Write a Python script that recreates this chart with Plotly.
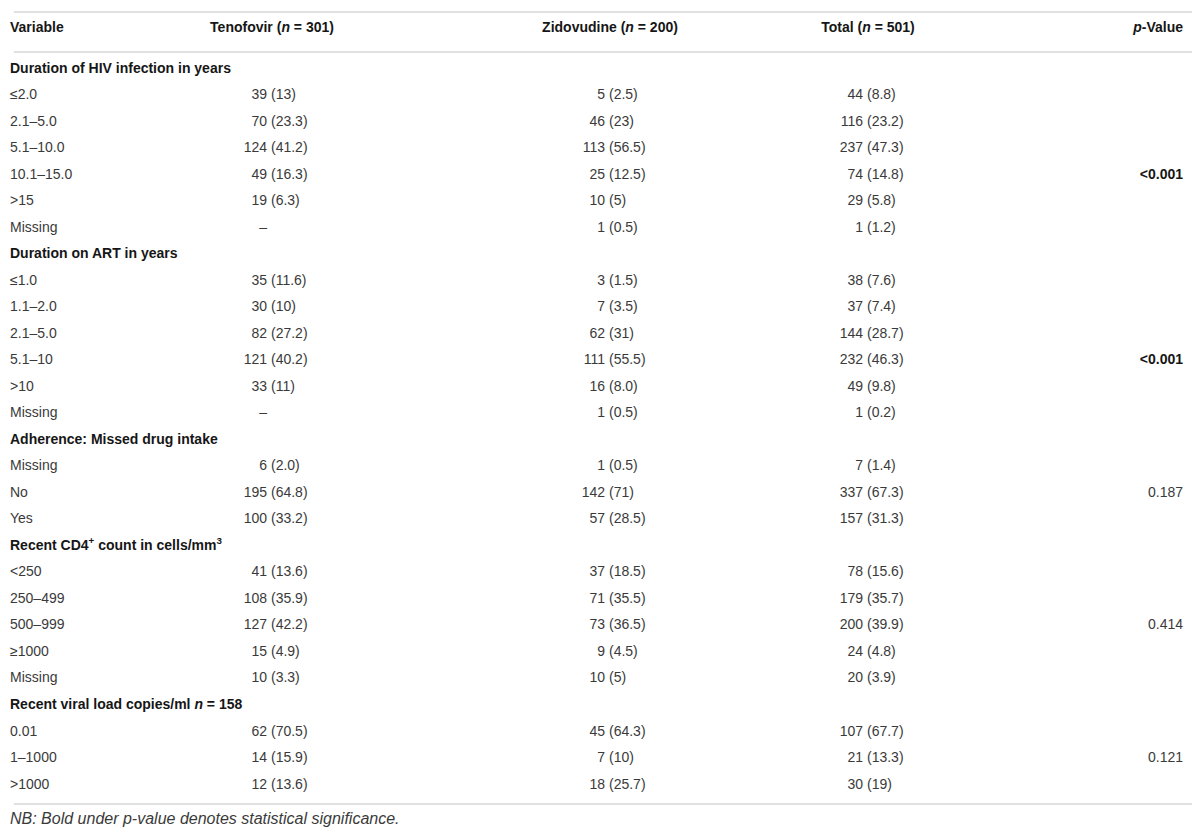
import plotly.graph_objects as go

# ---------------- data ----------------
header_labels = ["Variable", "Tenofovir (<i>n</i> = 301)", "Zidovudine (<i>n</i> = 200)",
                 "Total (<i>n</i> = 501)", "<i>p</i>-Value"]

group_titles = [
    "Duration of HIV infection in years",
    "Duration on ART in years",
    "Adherence: Missed drug intake",
    "Recent CD4<sup>+</sup> count in cells/mm<sup>3</sup>",
    "Recent viral load copies/ml <i>n</i> = 158",
]

hiv_levels = ["≤2.0", "2.1–5.0", "5.1–10.0", "10.1–15.0", ">15", "Missing"]
hiv_tdf = ["39 (13)", "70 (23.3)", "124 (41.2)", "49 (16.3)", "19 (6.3)", "–"]
hiv_azt = ["5 (2.5)", "46 (23)", "113 (56.5)", "25 (12.5)", "10 (5)", "1 (0.5)"]
hiv_tot = ["44 (8.8)", "116 (23.2)", "237 (47.3)", "74 (14.8)", "29 (5.8)", "1 (1.2)"]
hiv_p = ["", "", "", "<0.001", "", ""]

art_levels = ["≤1.0", "1.1–2.0", "2.1–5.0", "5.1–10", ">10", "Missing"]
art_tdf = ["35 (11.6)", "30 (10)", "82 (27.2)", "121 (40.2)", "33 (11)", "–"]
art_azt = ["3 (1.5)", "7 (3.5)", "62 (31)", "111 (55.5)", "16 (8.0)", "1 (0.5)"]
art_tot = ["38 (7.6)", "37 (7.4)", "144 (28.7)", "232 (46.3)", "49 (9.8)", "1 (0.2)"]
art_p = ["", "", "", "<0.001", "", ""]

adh_levels = ["Missing", "No", "Yes"]
adh_tdf = ["6 (2.0)", "195 (64.8)", "100 (33.2)"]
adh_azt = ["1 (0.5)", "142 (71)", "57 (28.5)"]
adh_tot = ["7 (1.4)", "337 (67.3)", "157 (31.3)"]
adh_p = ["", "0.187", ""]

cd4_levels = ["<250", "250–499", "500–999", "≥1000", "Missing"]
cd4_tdf = ["41 (13.6)", "108 (35.9)", "127 (42.2)", "15 (4.9)", "10 (3.3)"]
cd4_azt = ["37(18.5)", "71 (35.5)", "73 (36.5)", "9 (4.5)", "10 (5)"]
cd4_tot = ["78 (15.6)", "179 (35.7)", "200 (39.9)", "24 (4.8)", "20 (3.9)"]
cd4_p = ["", "", "0.414", "", ""]

vl_levels = ["0.01", "1–1000", ">1000"]
vl_tdf = ["62 (70.5)", "14 (15.9)", "12 (13.6)"]
vl_azt = ["45 (64.3)", "7 (10)", "18 (25.7)"]
vl_tot = ["107 (67.7)", "21 (13.3)", "30 (19)"]
vl_p = ["", "0.121", ""]

footnote = "NB: Bold under p-value denotes statistical significance."

# ---------------- layout constants ----------------
W, H = 1200, 834
ROW0_PX, ROW_PITCH = 61.0, 26.52
LEFT_X = 2
ANCHORS = [259, 597, 855]     # right edge of counts in each data column
GAP = 4
HEAD_SHIFT = 5
P_RIGHT = 1175
FONT = "Liberation Sans, Arial, Helvetica, sans-serif"
SIZE = 14
TXT = "#3a3a3a"
DARK = "#161616"
RULE = "#d6d6d6"


def row_of(px):
    return (px - ROW0_PX) / ROW_PITCH


def esc(s):
    return s.replace("<", "&lt;").replace(">", "&gt;")


groups = [
    (group_titles[0], hiv_levels, hiv_tdf, hiv_azt, hiv_tot, hiv_p),
    (group_titles[1], art_levels, art_tdf, art_azt, art_tot, art_p),
    (group_titles[2], adh_levels, adh_tdf, adh_azt, adh_tot, adh_p),
    (group_titles[3], cd4_levels, cd4_tdf, cd4_azt, cd4_tot, cd4_p),
    (group_titles[4], vl_levels, vl_tdf, vl_azt, vl_tot, vl_p),
]

labels, is_cat, cols, pvals = [], [], [[], [], []], []
for title, lv, a, b, c, p in groups:
    labels.append("<b>" + title + "</b>")
    is_cat.append(True)
    for k in range(3):
        cols[k].append("")
    pvals.append("")
    for i in range(len(lv)):
        labels.append(esc(lv[i]))
        is_cat.append(False)
        cols[0].append(a[i])
        cols[1].append(b[i])
        cols[2].append(c[i])
        pvals.append(p[i])

rows = list(range(len(labels)))

fig = go.Figure()


def add_text(xs, ys, texts, pos, size=SIZE, color=TXT):
    fig.add_trace(go.Scatter(x=xs, y=ys, text=texts, mode="text", textposition=pos,
                             textfont=dict(family=FONT, size=size, color=color),
                             hoverinfo="skip", showlegend=False, cliponaxis=False))


# first column labels: group titles (bold) and levels
cat_rows = [r for r in rows if is_cat[r]]
sub_rows = [r for r in rows if not is_cat[r]]
add_text([LEFT_X] * len(cat_rows), cat_rows, [labels[r] for r in cat_rows],
         "middle right", color=DARK)
add_text([LEFT_X] * len(sub_rows), sub_rows, [labels[r] for r in sub_rows],
         "middle right")

# data columns: count right-aligned, percentage left-aligned
for k, anchor in enumerate(ANCHORS):
    cy, ct, py, pt = [], [], [], []
    for r, cell in zip(rows, cols[k]):
        if not cell:
            continue
        idx = cell.find("(")
        if idx < 0:
            cy.append(r); ct.append(cell.strip())
            continue
        cy.append(r); ct.append(cell[:idx].strip())
        py.append(r); pt.append(cell[idx:])
    add_text([anchor] * len(cy), cy, ct, "middle left")
    add_text([anchor + GAP] * len(py), py, pt, "middle right")

# p-values (bold when significant)
sig_y, sig_t, ns_y, ns_t = [], [], [], []
for r, p in zip(rows, pvals):
    if not p:
        continue
    val = float(p.lstrip("<"))
    if val < 0.05:
        sig_y.append(r); sig_t.append("<b>" + esc(p) + "</b>")
    else:
        ns_y.append(r); ns_t.append(esc(p))
add_text([P_RIGHT] * len(sig_y), sig_y, sig_t, "middle left", color=DARK)
add_text([P_RIGHT] * len(ns_y), ns_y, ns_t, "middle left")

# header row
hy = row_of(20)
add_text([LEFT_X], [hy], ["<b>" + header_labels[0] + "</b>"], "middle right", color=DARK)
add_text([a + HEAD_SHIFT for a in ANCHORS], [hy] * 3,
         ["<b>" + h + "</b>" for h in header_labels[1:4]], "middle center", color=DARK)
add_text([P_RIGHT], [hy], ["<b>" + header_labels[4] + "</b>"], "middle left", color=DARK)

# footnote
add_text([LEFT_X], [row_of(812)], ["<i>" + footnote + "</i>"], "middle right", size=16)

# rules
for ypx in (4, 44, 796):
    fig.add_shape(type="line", xref="x", yref="y", x0=6, x1=1192,
                  y0=row_of(ypx), y1=row_of(ypx), line=dict(color=RULE, width=1.5))

fig.update_layout(
    width=W, height=H, margin=dict(l=0, r=0, t=0, b=0),
    paper_bgcolor="white", plot_bgcolor="white",
    xaxis=dict(range=[0, W], visible=False, fixedrange=True),
    yaxis=dict(range=[row_of(H), row_of(0)], visible=False, fixedrange=True),
    showlegend=False,
)

fig.write_html("out.html")
